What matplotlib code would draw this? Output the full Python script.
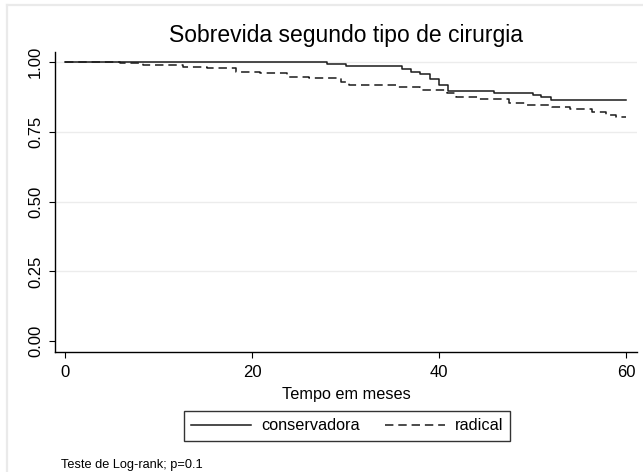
import matplotlib
matplotlib.use("Agg")
import matplotlib.pyplot as plt
from matplotlib.lines import Line2D

plt.rcParams['font.family'] = ['Liberation Sans', 'DejaVu Sans']

# Kaplan-Meier step data (time in months, survival after step)
cons_t = [0, 28.0, 30.0, 36.0, 37.0, 37.9, 39.0, 40.0, 40.9, 45.9, 50.0, 50.9, 52.0, 60]
cons_s = [1.0, 0.993, 0.985, 0.975, 0.966, 0.957, 0.940, 0.919, 0.898, 0.890, 0.883, 0.874, 0.865, 0.865]

rad_t = [0, 5.8, 8.3, 12.6, 15.1, 18.3, 20.8, 23.7, 26.1, 29.5, 30.4, 35.4, 37.9, 40.8,
         41.8, 44.3, 47.5, 49.3, 52.1, 54.0, 56.4, 57.9, 58.9, 60]
rad_s = [1.0, 0.996, 0.990, 0.984, 0.978, 0.966, 0.961, 0.948, 0.943, 0.930, 0.920, 0.910,
         0.901, 0.889, 0.877, 0.867, 0.855, 0.846, 0.841, 0.831, 0.823, 0.811, 0.803, 0.803]

x_ticks = [0, 20, 40, 60]
y_ticks = [0.00, 0.25, 0.50, 0.75, 1.00]
y_tick_labels = ["0.00", "0.25", "0.50", "0.75", "1.00"]
series_names = ["conservadora", "radical"]

title = "Sobrevida segundo tipo de cirurgia"
xlabel = "Tempo em meses"
note = "Teste de Log-rank; p=0.1"

W, H = 643, 472
fig = plt.figure(figsize=(W / 100, H / 100), dpi=100)
fig.patch.set_facecolor("white")

# outer light frame (top & left edges visible)
fig.add_artist(Line2D([7 / W, 7 / W], [0, 1 - 5 / H], color="#eaeaea", lw=1.6,
                      transform=fig.transFigure))
fig.add_artist(Line2D([7 / W, 1], [1 - 5 / H, 1 - 5 / H], color="#eaeaea", lw=1.6,
                      transform=fig.transFigure))

ax_left, ax_right = 55 / W, 637 / W
ax_top, ax_bottom = 1 - 51.7 / H, 1 - 352 / H
ax = fig.add_axes([ax_left, ax_bottom, ax_right - ax_left, ax_top - ax_bottom])

px_per_x = (626 - 65.5) / 60
px_per_y = (341 - 62.3)
ax.set_xlim(-(65.5 - 55) / px_per_x, 60 + (637 - 626) / px_per_x)
ax.set_ylim(-(352 - 341) / px_per_y, 1 + (62.3 - 51.7) / px_per_y)

for yv in y_ticks[1:]:
    ax.axhline(yv, color="#ececec", lw=1.0, zorder=0)

ax.step(cons_t, cons_s, where="post", color="#1a1a1a", lw=1.1, label=series_names[0])
ax.step(rad_t, rad_s, where="post", color="#1a1a1a", lw=1.1, dashes=(5.5, 3.2),
        label=series_names[1])

for s in ["top", "right"]:
    ax.spines[s].set_visible(False)
for s in ["left", "bottom"]:
    ax.spines[s].set_linewidth(1.0)
    ax.spines[s].set_color("black")

ax.set_xticks(x_ticks)
ax.set_yticks(y_ticks)
ax.set_yticklabels(y_tick_labels, rotation=90, va="center")
ax.tick_params(axis="both", length=4.5, width=0.8, labelsize=12, color="black")
ax.tick_params(axis="y", pad=4)
ax.tick_params(axis="x", pad=5)

ax.set_xlabel(xlabel, fontsize=11.7)
ax.xaxis.set_label_coords(0.5, -(394 - 352) / 300)
ax.xaxis.label.set_va("center")

fig.text(346 / W, 1 - 35.7 / H, title, fontsize=16.5, ha="center", va="center")

leg = fig.legend(loc="center", bbox_to_anchor=(347 / W, 1 - 426 / H), ncol=2,
                 fontsize=11.7, frameon=True, fancybox=False, handlelength=3.7,
                 columnspacing=1.55, handletextpad=0.6, borderpad=0.45,
                 borderaxespad=0)
leg.get_frame().set_edgecolor("black")
leg.get_frame().set_linewidth(1.0)

fig.text(61 / W, 1 - 465 / H, note, fontsize=9.2, ha="left", va="center")

fig.savefig("out.png", dpi=100, facecolor="white")
